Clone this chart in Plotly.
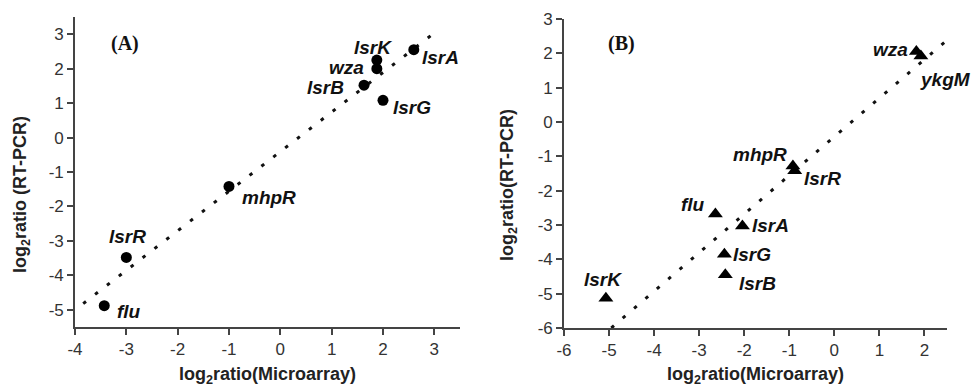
import plotly.graph_objects as go

W, H = 973, 388

# Panel A data (circles)
genes_a = ["lsrA", "lsrK", "wza", "lsrB", "lsrG", "mhpR", "lsrR", "flu"]
micro_a = [2.6, 1.88, 1.88, 1.63, 2.0, -1.0, -3.0, -3.43]
rtpcr_a = [2.55, 2.25, 2.0, 1.52, 1.08, -1.42, -3.48, -4.88]
fit_a_x = [-3.84, 3.02]
fit_a_y = [-4.82, 3.06]
xticks_a = [-4, -3, -2, -1, 0, 1, 2, 3]
yticks_a = [-5, -4, -3, -2, -1, 0, 1, 2, 3]

# Panel B data (triangles)
genes_b = ["wza", "ykgM", "mhpR", "lsrR", "flu", "lsrA", "lsrG", "lsrB", "lsrK"]
micro_b = [1.82, 1.92, -0.92, -0.88, -2.64, -2.04, -2.44, -2.42, -5.07]
rtpcr_b = [2.05, 1.92, -1.28, -1.42, -2.68, -3.03, -3.85, -4.45, -5.13]
fit_b_x = [-4.95, 2.53]
fit_b_y = [-6.0, 2.42]
xticks_b = [-6, -5, -4, -3, -2, -1, 0, 1, 2]
yticks_b = [-6, -5, -4, -3, -2, -1, 0, 1, 2, 3]

# label offsets (pixels)
off_a = {"lsrA": (27, -8), "lsrK": (-4, 13), "wza": (-30, 1), "lsrB": (-39, -2),
         "lsrG": (29, -7), "mhpR": (40, -11), "lsrR": (1, 21), "flu": (25, -6)}
off_b = {"wza": (-26, 2), "ykgM": (25, -23), "mhpR": (-33, 11), "lsrR": (28, -8),
         "flu": (-22, 10), "lsrA": (28, 1), "lsrG": (28, 0), "lsrB": (32, -9), "lsrK": (-3, 19)}

fig = go.Figure()
dot_line = dict(color="#111", width=3, dash="3.5px,11.5px")
fig.add_trace(go.Scatter(x=fit_a_x, y=fit_a_y, mode="lines", line=dot_line,
                         xaxis="x", yaxis="y", hoverinfo="skip"))
fig.add_trace(go.Scatter(x=micro_a, y=rtpcr_a, mode="markers", text=genes_a,
                         marker=dict(symbol="circle", size=11, color="#000"),
                         xaxis="x", yaxis="y"))
fig.add_trace(go.Scatter(x=fit_b_x, y=fit_b_y, mode="lines", line=dot_line,
                         xaxis="x2", yaxis="y2", hoverinfo="skip"))
fig.add_trace(go.Scatter(x=micro_b, y=rtpcr_b, mode="markers", text=genes_b,
                         marker=dict(symbol="triangle-up", size=13, color="#000"),
                         xaxis="x2", yaxis="y2"))

lab_font = dict(family="Liberation Sans, Arial", size=19, color="#111")
ann = []
for g, x, y in zip(genes_a, micro_a, rtpcr_a):
    dx, dy = off_a[g]
    ann.append(dict(x=x, y=y, xref="x", yref="y", text=f"<b><i>{g}</i></b>",
                    showarrow=False, xshift=dx, yshift=dy, font=lab_font,
                    xanchor="center", yanchor="middle"))
for g, x, y in zip(genes_b, micro_b, rtpcr_b):
    dx, dy = off_b[g]
    ann.append(dict(x=x, y=y, xref="x2", yref="y2", text=f"<b><i>{g}</i></b>",
                    showarrow=False, xshift=dx, yshift=dy, font=lab_font,
                    xanchor="center", yanchor="middle"))

title_font = dict(family="Liberation Sans, Arial", size=18, color="#222")
serif = dict(family="Liberation Serif, Times New Roman", size=20, color="#111")


def pann(px, py, text, font, angle=0):
    return dict(x=px / W, y=1 - py / H, xref="paper", yref="paper", text=text,
                showarrow=False, font=font, textangle=angle,
                xanchor="center", yanchor="middle")


ann += [
    pann(125, 43, "<b>(A)</b>", serif),
    pann(621, 43, "<b>(B)</b>", serif),
    pann(267, 375, "<b>log<sub>2</sub>ratio(Microarray)</b>", title_font),
    pann(755, 375, "<b>log<sub>2</sub>ratio(Microarray)</b>", title_font),
    pann(21, 195, "<b>log<sub>2</sub>ratio (RT-PCR)</b>", title_font, -90),
    pann(508, 185, "<b>log<sub>2</sub>ratio(RT-PCR)</b>", title_font, -90),
]

axis_common = dict(showgrid=False, zeroline=False, showline=True, linecolor="#444",
                   linewidth=1.6, ticks="outside", ticklen=6, tickwidth=1.5, tickcolor="#444",
                   tickfont=dict(family="Liberation Sans, Arial", size=17, color="#333"),
                   mirror=False, automargin=False)

fig.update_layout(
    width=W, height=H, showlegend=False,
    paper_bgcolor="white", plot_bgcolor="white",
    margin=dict(l=0, r=0, t=0, b=0, autoexpand=False),
    xaxis=dict(domain=[75 / W, 460 / W], range=[-4, 3.5], tickvals=xticks_a,
               ticktext=[str(v) for v in xticks_a], anchor="y", **axis_common),
    yaxis=dict(domain=[1 - 327 / H, 1 - 17 / H], range=[-5.5, 3.5], tickvals=yticks_a,
               ticktext=[str(v) for v in yticks_a], anchor="x", **axis_common),
    xaxis2=dict(domain=[564 / W, 947 / W], range=[-6, 2.5], tickvals=xticks_b,
                ticktext=[str(v) for v in xticks_b], anchor="y2", **axis_common),
    yaxis2=dict(domain=[1 - 328 / H, 1 - 19 / H], range=[-6, 3], tickvals=yticks_b,
                ticktext=[str(v) for v in yticks_b], anchor="x2", **axis_common),
    annotations=ann,
)

fig.write_html("out.html", config={"displayModeBar": False},
               post_script="document.body.style.margin='0';document.body.style.overflow='hidden';")
